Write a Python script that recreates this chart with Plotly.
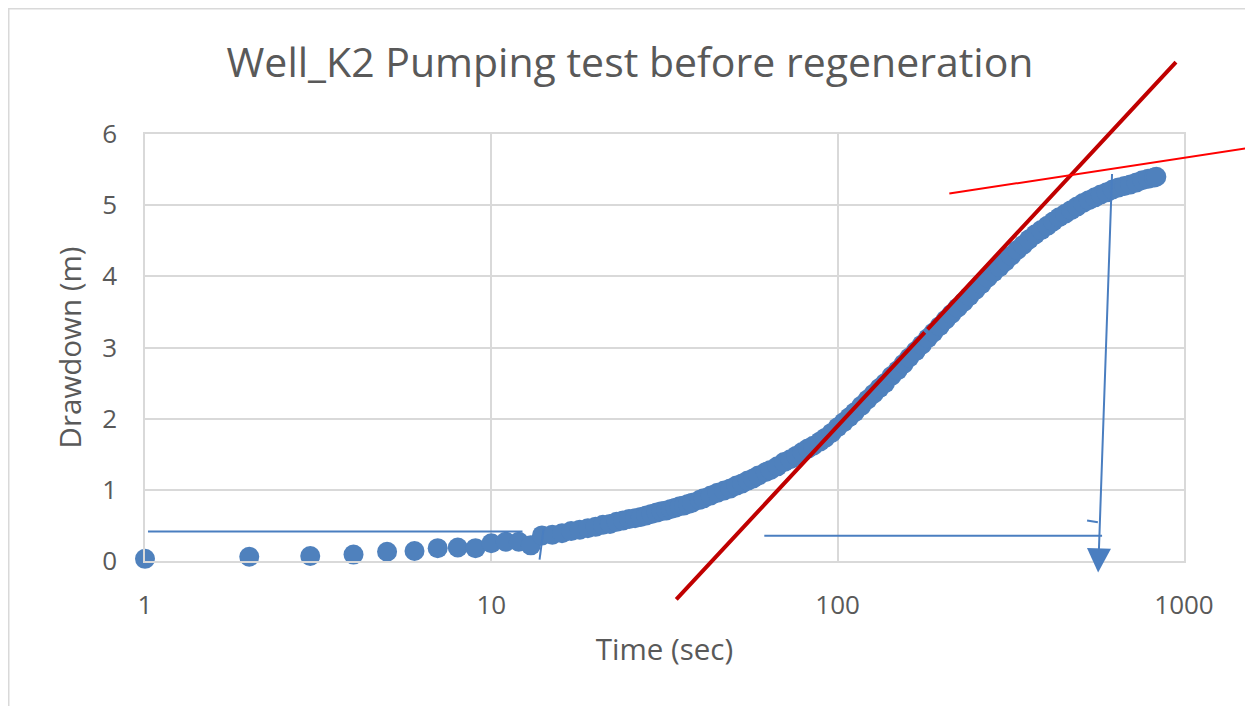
import numpy as np
import plotly.graph_objects as go

# ---------------- data ----------------
time_s = [1, 2, 3, 4, 5, 6, 7, 8, 9, 10, 11, 12, 13, 14, 15, 16, 17, 18, 19, 20,
          21, 22, 23, 24, 25, 26, 27, 28, 29, 30, 31, 32, 33, 34, 35, 36, 37, 38,
          40, 41, 43, 45, 47, 49, 51, 53, 55, 57, 59, 62, 64, 67, 70, 73, 76, 79,
          82, 85, 89, 92, 96, 100, 104, 108, 112, 117, 122, 127, 132, 137, 143,
          149, 155, 161, 168, 175, 182, 189, 197, 205, 213, 222, 231, 240, 250,
          260, 271, 282, 293, 305, 317, 330, 343, 357, 372, 387, 403, 419, 436,
          454, 472, 491, 511, 531, 553, 575, 598, 622, 647, 673, 700, 729, 758,
          788, 820, 832]
drawdown_m = [0.03, 0.06, 0.07, 0.09, 0.13, 0.14, 0.18, 0.19, 0.18, 0.25, 0.27,
              0.27, 0.22, 0.36, 0.37, 0.39, 0.42, 0.44, 0.46, 0.48, 0.51, 0.52,
              0.55, 0.57, 0.59, 0.60, 0.62, 0.64, 0.66, 0.68, 0.70, 0.71, 0.73,
              0.75, 0.77, 0.78, 0.80, 0.82, 0.86, 0.88, 0.92, 0.96, 0.99, 1.02,
              1.06, 1.09, 1.13, 1.16, 1.20, 1.25, 1.28, 1.33, 1.39, 1.43, 1.48,
              1.53, 1.58, 1.62, 1.68, 1.73, 1.80, 1.88, 1.95, 2.02, 2.09, 2.18,
              2.27, 2.35, 2.43, 2.50, 2.60, 2.68, 2.77, 2.86, 2.95, 3.04, 3.13,
              3.21, 3.30, 3.39, 3.47, 3.56, 3.64, 3.72, 3.81, 3.89, 3.98, 4.06,
              4.13, 4.21, 4.29, 4.37, 4.44, 4.52, 4.59, 4.65, 4.71, 4.77, 4.83,
              4.88, 4.93, 4.98, 5.03, 5.07, 5.11, 5.15, 5.18, 5.22, 5.25, 5.27,
              5.29, 5.32, 5.35, 5.37, 5.39, 5.40]

x_tick_vals = [1, 10, 100, 1000]
x_tick_text = ["1", "10", "100", "1000"]
y_tick_vals = [0, 1, 2, 3, 4, 5, 6]

# hand-drawn straight-line fits (data units: time s, drawdown m)
steep_fit_t = [34.2, 948]
steep_fit_s = [-0.54, 7.01]
flat_fit_t = [208, 1570]
flat_fit_s = [5.16, 5.81]
# hand-drawn blue construction lines
base_line_t = [1.02, 12.3]
base_line_s = [0.415, 0.415]
base_tick_t = [14.15, 13.78]
base_tick_s = [0.45, 0.02]
span_line_t = [61.4, 580]
span_line_s = [0.355, 0.355]
span_tick_t = [525, 564]
span_tick_s = [0.57, 0.545]
arrow_t = [620, 565]
arrow_s = [5.46, -0.16]

# ---------------- styling ----------------
# the page body has an 8px margin, so the figure is 8px smaller each way
W, H = 1245, 698
ML, MR, MT, MB = 137, 69, 126, 145
GRAY_TXT = "#595959"
GRID = "#D9D9D9"
BLUE = "#4F81BD"
LINE_BLUE = "#4A7EC0"
FONT = "Open Sans"

fig = go.Figure()

fig.add_trace(go.Scatter(
    x=time_s, y=drawdown_m, mode="markers",
    marker=dict(size=20, color=BLUE, line=dict(width=0)),
    cliponaxis=False, showlegend=False, hoverinfo="x+y"))

for tt, ss in [(base_line_t, base_line_s), (base_tick_t, base_tick_s),
               (span_line_t, span_line_s), (span_tick_t, span_tick_s)]:
    fig.add_trace(go.Scatter(x=tt, y=ss, mode="lines",
                             line=dict(color=LINE_BLUE, width=2),
                             showlegend=False, hoverinfo="skip"))


def seg(t0, s0, t1, s1, color, width, head=0, size=1.0):
    # annotation arrow from tail (t0, s0) to head (t1, s1); log axis uses log10
    fig.add_annotation(x=np.log10(t1), y=s1, ax=np.log10(t0), ay=s0,
                       xref="x", yref="y", axref="x", ayref="y",
                       text="", showarrow=True, arrowhead=head,
                       arrowsize=size, arrowwidth=width, arrowcolor=color,
                       standoff=0, startstandoff=0)


# steep fit line, split at its log-midpoint so each piece has an in-range end
mid_t = 10 ** ((np.log10(steep_fit_t[0]) + np.log10(steep_fit_t[1])) / 2)
mid_s = (steep_fit_s[0] + steep_fit_s[1]) / 2
seg(mid_t, mid_s, steep_fit_t[0], steep_fit_s[0], "#C00000", 4)
seg(mid_t, mid_s, steep_fit_t[1], steep_fit_s[1], "#C00000", 4)
# flat fit line
seg(flat_fit_t[0], flat_fit_s[0], flat_fit_t[1], flat_fit_s[1], "#FF0000", 2)
# vertical arrow
seg(arrow_t[0], arrow_s[0], arrow_t[1], arrow_s[1], LINE_BLUE, 2, head=2, size=2.4)

pw = W - ML - MR
ph = H - MT - MB
# outer chart frame (paper coordinates relative to the plot area)
fig.add_shape(type="rect", xref="paper", yref="paper",
              x0=(0.75 - ML) / pw, x1=(1240 - ML) / pw,
              y0=(H - MB - 720) / ph, y1=(H - MB - 0.75) / ph,
              line=dict(color=GRID, width=1.5), fillcolor="rgba(0,0,0,0)",
              layer="below")

fig.update_layout(
    width=W, height=H,
    margin=dict(l=ML, r=MR, t=MT, b=MB),
    paper_bgcolor="white", plot_bgcolor="white",
    font=dict(family=FONT, color=GRAY_TXT),
    title=dict(text="Well_K2 Pumping test before regeneration",
               font=dict(family=FONT, size=41, color=GRAY_TXT),
               x=622 / W, xanchor="center", xref="container",
               y=1 - 55 / H, yanchor="middle", yref="container"),
    xaxis=dict(type="log", range=[0, 3], tickvals=x_tick_vals,
               ticktext=x_tick_text, showgrid=True, gridcolor=GRID,
               gridwidth=1.5, showline=True, linecolor=GRID, linewidth=1.5,
               mirror=True, ticks="", ticklabelstandoff=20,
               tickfont=dict(size=26, color=GRAY_TXT),
               title=dict(text="Time (sec)", font=dict(size=29.5, color=GRAY_TXT),
                          standoff=18),
               zeroline=False, automargin=False),
    yaxis=dict(range=[0, 6], tickvals=y_tick_vals, showgrid=True,
               gridcolor=GRID, gridwidth=1.5, showline=True, linecolor=GRID,
               linewidth=1.5, mirror=True, ticks="", ticklabelstandoff=21,
               tickfont=dict(size=26, color=GRAY_TXT),
               title=dict(text="Drawdown (m)", font=dict(size=29.5, color=GRAY_TXT),
                          standoff=12),
               zeroline=False, automargin=False),
)

fig.write_html("out.html")
